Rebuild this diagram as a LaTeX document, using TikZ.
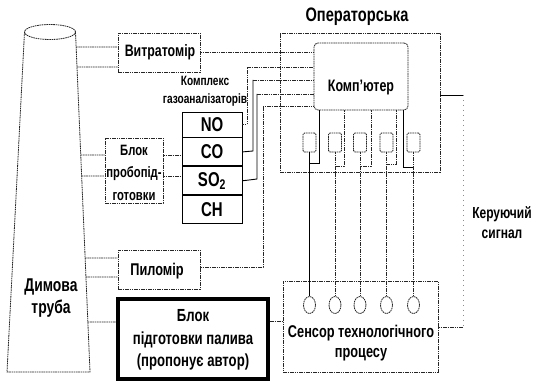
\documentclass[tikz,border=0pt]{standalone}
\usepackage{fontspec}
\setmainfont{Liberation Sans}[FakeStretch=0.75]
\usetikzlibrary{calc,shapes.geometric}
\newcommand{\setfs}[2]{\fontsize{#1}{#2}\selectfont}
\begin{document}
\begin{tikzpicture}[x=1pt,y=-1pt,
  dl/.style={line width=0.8pt, dash pattern=on 1.6pt off 0.7pt, black!85},
  sl/.style={line width=0.9pt, black},
  box/.style={draw, dl, rectangle, inner sep=0pt},
  gasbox/.style={draw, line width=0.9pt, rectangle, inner sep=0pt, minimum width=60pt, font=\bfseries\setfs{20}{21}},
  sq/.style={draw, dl, rectangle, rounded corners=1.5pt, minimum width=13pt, minimum height=19pt, inner sep=0pt},
  circ/.style={draw, dl, ellipse, minimum width=12pt, minimum height=17pt, inner sep=0pt},
  lbl/.style={align=center, inner sep=0pt, font=\bfseries}]
\fill[white] (0,0) rectangle (539,382);
\useasboundingbox (0,0) rectangle (539,382);

% chimney
\node[draw, dl, ellipse, minimum width=51pt, minimum height=15pt, inner sep=0pt] (top) at (50,32) {};
\coordinate (cTL) at (24.5,32);
\coordinate (cTR) at (75.5,32);
\coordinate (cBL) at (7,372);
\coordinate (cBR) at (90,372);
\draw[dl] (cTL) -- (cBL) -- (cBR) -- (cTR);
\node[lbl, font=\bfseries\setfs{18.5}{22}] (chim) at (51,298) {Димова\\труба};

% boxes
\node[box, minimum width=82pt, minimum height=39pt] (vitr) at (159,52.5) {};
\node[lbl, font=\bfseries\setfs{16.5}{17}] at (160,52) {Витратомір};

\node[lbl, font=\bfseries\setfs{13.5}{18}] (gaslbl) at (205,91) {Комплекс\\газоаналізаторів};
\node[gasbox, minimum height=25pt] (no) at (212,124.5) {NO};
\node[gasbox, minimum height=28pt, anchor=north] (co) at (no.south) {CO};
\node[gasbox, minimum height=28pt, anchor=north] (so) at (co.south) {SO\textsubscript{2}};
\node[gasbox, minimum height=28pt, anchor=north] (ch) at (so.south) {CH};

\node[box, minimum width=58pt, minimum height=65pt] (probo) at (134,170.5) {};
\node[lbl, font=\bfseries\setfs{15}{22.5}] at (134,172.5) {Блок\\пробопід-\\готовки};

\node[box, minimum width=82pt, minimum height=39pt] (pilo) at (159,269.5) {};
\node[lbl, font=\bfseries\setfs{17}{18}] at (157,271) {Пиломір};

\node[draw, line width=4pt, rectangle, minimum width=150pt, minimum height=80pt, inner sep=0pt] (fuel) at (193,339) {};
\node[lbl, font=\bfseries\setfs{17.5}{22.5}] at (193,340) {Блок\\підготовки палива\\(пропонує автор)};

% operator room
\node[box, minimum width=160pt, minimum height=139pt] (oper) at (360,102.5) {};
\node[lbl, font=\bfseries\setfs{19.5}{20}] (operlbl) at (357,17) {Операторська};
\node[box, rounded corners=4pt, minimum width=94pt, minimum height=67pt] (comp) at (361,76.5) {};
\node[lbl, font=\bfseries\setfs{16.6}{17}] at (361,88) {Комп'ютер};

\foreach \i/\x in {1/309.5,2/335,3/360,4/386.5,5/413.5}{
  \node[sq] (s\i) at (\x,142.5) {};
  \node[circ] (c\i) at (\x,305) {};
}

% sensor
\node[box, minimum width=155pt, minimum height=91pt] (sens) at (360.5,326.5) {};
\node[lbl, font=\bfseries\setfs{17}{20.5}] at (361,343) {Сенсор технологічного\\процесу};

\node[lbl, font=\bfseries\setfs{16}{20}] (ctrl) at (502,223) {Керуючий\\сигнал};

% chimney to boxes
\foreach \y/\t in {47/vitr,67/vitr,155/probo,176/probo,258/pilo,277/pilo,322/fuel}{
  \draw[dl] (intersection of cTR--cBR and 0,\y--100,\y) -- (\t.west |- 0,\y);
}
\draw[dl] (fuel.east |- 0,321) -- (sens.west |- 0,321);

% probo to gas
\draw[dl] (probo.east |- 0,155) -- (co.west |- 0,155);
\draw[dl] (probo.east |- 0,176) -- (so.west |- 0,176);

% to computer
\draw[dl] (vitr.east |- 0,52) -- (comp.west |- 0,52);
\draw[dl] (no.east) -- (247,124.5) -- (247,67) -- (comp.west |- 0,67);
\draw[sl] (co.east) -- (253,151) -- (253,80);
\draw[dl] (253,80) -- (comp.west |- 0,80);
\draw[sl] (so.east) -- (257,179) -- (257,94);
\draw[dl] (257,94) -- (comp.west |- 0,94);
\draw[dl] (pilo.east |- 0,267) -- (263,267) -- (263,106) -- (comp.west |- 0,106);

% computer to squares
\draw[sl] (comp.south -| 319,0) |- (s1.south |- 0,163);
\draw[dl] (comp.south -| 344,0) |- (s2.south |- 0,166);
\draw[dl] (comp.south -| 371,0) |- (s3.south |- 0,166);
\draw[dl] (comp.south -| 396,0) |- (s4.south |- 0,164);
\draw[sl] (comp.south -| 403,0) |- (s5.south |- 0,167);

% squares to sensor circles
\draw[sl] (s1.south) -- (c1.north);
\foreach \i in {2,...,5}{ \draw[dl] (s\i.south) -- (c\i.north); }

% control signal
\draw[sl] (oper.east |- 0,95) -- (463,95);
\draw[black!45, line width=0.6pt, dash pattern=on 1pt off 4pt] (463,95) -- (463,327);
\draw[dl] (sens.east |- 0,327) -- (463,327);
\end{tikzpicture}
\end{document}
